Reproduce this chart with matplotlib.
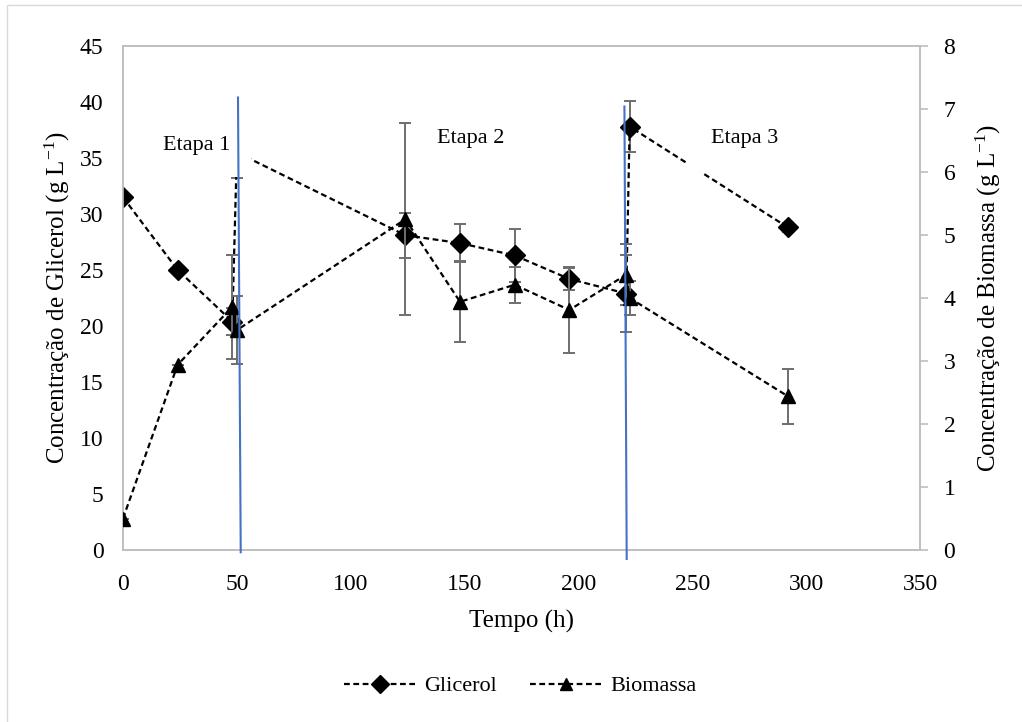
import matplotlib
matplotlib.use("Agg")
import matplotlib.pyplot as plt
from matplotlib.lines import Line2D
from matplotlib.patches import Rectangle

plt.rcParams["font.family"] = ["Liberation Serif", "DejaVu Serif"]
plt.rcParams["mathtext.fontset"] = "custom"
plt.rcParams["mathtext.rm"] = "Liberation Serif"
plt.rcParams["mathtext.it"] = "Liberation Serif:italic"

# Sampling times (h)
time_h = [0, 24, 48, 50, 124, 148, 172, 196, 221, 222.5, 292]

# Glycerol concentration (g/L) and standard deviation
glicerol = [31.5, 25.0, 20.4, 35.5, 28.1, 27.4, 26.3, 24.2, 22.9, 37.8, 28.8]
glicerol_sd = [0, 0, 1.2, 2.3, 2.0, 1.7, 2.4, 1.0, 3.4, 2.3, 0.4]

# Biomass concentration (g/L) and standard deviation
biomassa = [0.5, 2.94, 3.86, 3.49, 5.25, 3.94, 4.21, 3.81, 4.37, 4.0, 2.44]
biomassa_sd = [0, 0, 0.83, 0.54, 1.52, 0.64, 0.29, 0.68, 0.48, 0.27, 0.44]

# Stage boundaries (h) drawn as vertical markers
etapa_limites = [51, 220.5]
etapa_labels = ["Etapa 1", "Etapa 2", "Etapa 3"]

x_ticks = [0, 50, 100, 150, 200, 250, 300, 350]
y1_ticks = [0, 5, 10, 15, 20, 25, 30, 35, 40, 45]
y2_ticks = [0, 1, 2, 3, 4, 5, 6, 7, 8]

W, H = 1022, 722
fig = plt.figure(figsize=(W / 100, H / 100), dpi=100)
fig.patch.set_facecolor("white")

# chart-area border
fig.add_artist(Rectangle((7 / W, -0.1), 1.2, 1 - 5 / H + 0.1, transform=fig.transFigure,
                         fill=False, edgecolor="#d9d9d9", linewidth=1.0))

left, right, bottom, top = 123, 920, 550, 46
ax = fig.add_axes([left / W, 1 - bottom / H, (right - left) / W, (bottom - top) / H])
ax2 = ax.twinx()

grid_gray = "#bfbfbf"
err_gray = "#6e6e6e"
dash = (2.6, 1.6)

ax.errorbar(time_h, glicerol, yerr=glicerol_sd, fmt="none", ecolor=err_gray,
            elinewidth=1.4, capsize=4, capthick=1.4, zorder=2)
ax.plot(time_h, glicerol, color="black", linestyle="--", dashes=dash, linewidth=1.6,
        marker="D", markersize=10.5, markerfacecolor="black", markeredgecolor="black",
        zorder=3)

ax2.errorbar(time_h, biomassa, yerr=biomassa_sd, fmt="none", ecolor=err_gray,
             elinewidth=1.4, capsize=4, capthick=1.4, zorder=2)
ax2.plot(time_h, biomassa, color="black", linestyle="--", dashes=dash, linewidth=1.6,
         marker="^", markersize=10, markerfacecolor="black", markeredgecolor="black",
         zorder=3)

ax.set_xlim(0, 350)
ax.set_ylim(0, 45)
ax2.set_ylim(0, 8)
ax.set_xticks(x_ticks)
ax.set_yticks(y1_ticks)
ax2.set_yticks(y2_ticks)

tick_fs = 17
ax.tick_params(axis="x", labelsize=tick_fs, length=0, pad=17, colors="black")
ax.tick_params(axis="y", labelsize=tick_fs, length=0, pad=14, colors="black")
ax2.tick_params(axis="y", labelsize=tick_fs, length=6, width=1.2, pad=11,
                colors="black")
ax2.tick_params(axis="y", color=grid_gray)

for a in (ax, ax2):
    for s in a.spines.values():
        s.set_color(grid_gray)
        s.set_linewidth(1.2)

label_fs = 18
ax.set_xlabel("Tempo (h)", fontsize=label_fs, labelpad=11)
ax.set_ylabel("Concentração de Glicerol (g L$^{-1}$)", fontsize=label_fs, labelpad=6)
ax2.set_ylabel("Concentração de Biomassa (g L$^{-1}$)", fontsize=label_fs, labelpad=13)

# Stage labels in white text boxes (axes-fraction positions)
boxes = [(0.028, 0.740, 0.133, 0.143), None, (0.708, 0.748, 0.141, 0.135)]
label_pos = [(0.092, 0.803), (0.436, 0.817), (0.780, 0.817)]
for box, (lx, ly), txt in zip(boxes, label_pos, etapa_labels):
    if box is not None:
        ax2.add_patch(Rectangle(box[:2], box[2], box[3], transform=ax2.transAxes,
                                facecolor="white", edgecolor="none", zorder=5))
    ax2.text(lx, ly, txt, transform=ax2.transAxes, fontsize=16, ha="center",
             va="center", zorder=6)

# Stage boundary lines (drawn on top, in glycerol-axis units)
ax2.plot([etapa_limites[0] - 0.5, etapa_limites[0] + 0.7], [40.4, -0.2],
         transform=ax.transData, color="#4472c4", linewidth=1.5, zorder=7,
         clip_on=False)
ax2.plot([etapa_limites[1] - 0.3, etapa_limites[1] + 0.7], [39.6, -0.8],
         transform=ax.transData, color="#4472c4", linewidth=1.5, zorder=7,
         clip_on=False)

handles = [
    Line2D([], [], color="black", linestyle="--", dashes=dash, linewidth=1.6,
           marker="D", markersize=9),
    Line2D([], [], color="black", linestyle="--", dashes=dash, linewidth=1.6,
           marker="^", markersize=9),
]
fig.legend(handles, ["Glicerol", "Biomassa"], loc="center", bbox_to_anchor=(0.509, 1 - 686 / H),
           ncol=2, frameon=False, fontsize=16, handlelength=3.2, handletextpad=0.4,
           columnspacing=1.5)

fig.savefig("out.png", dpi=100, facecolor="white")
